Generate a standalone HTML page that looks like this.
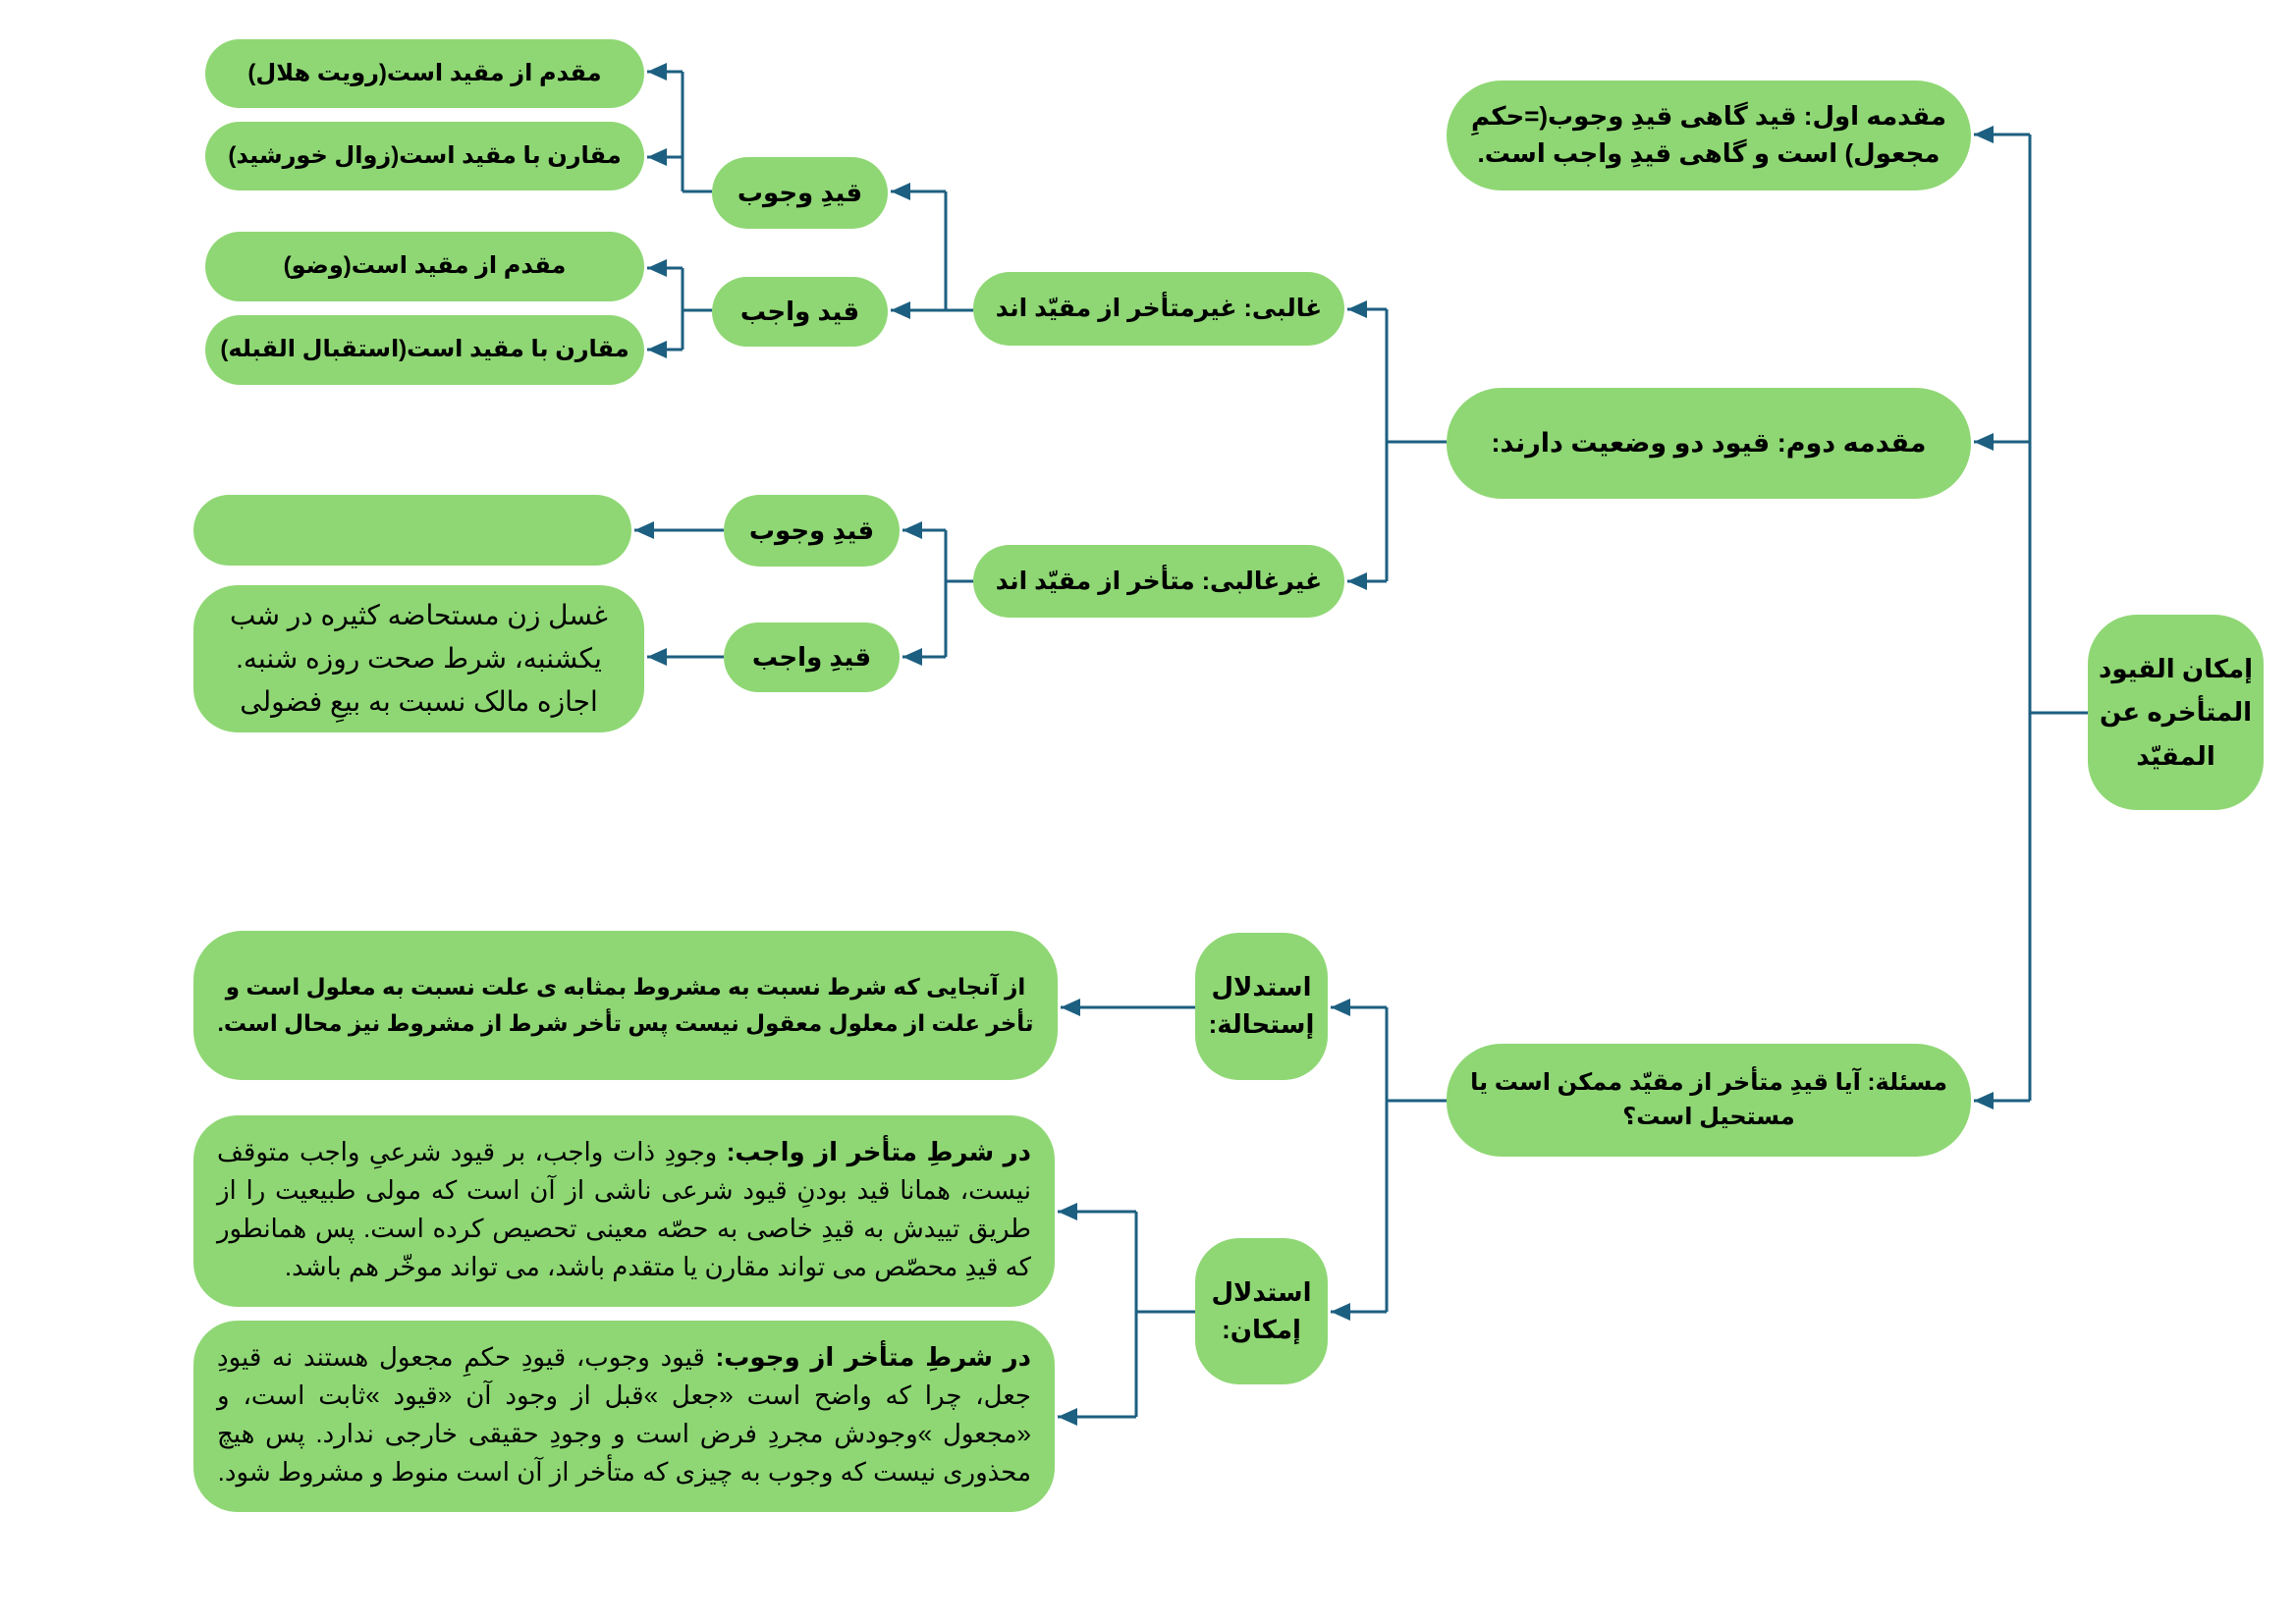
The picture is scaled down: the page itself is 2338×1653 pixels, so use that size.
<!DOCTYPE html>
<html><head><meta charset="utf-8"><style>
body{margin:0;width:2338px;height:1653px;background:#fff;position:relative;overflow:hidden;font-family:"Liberation Sans","DejaVu Sans",sans-serif;}
.n{position:absolute;background:#8fd774;border-radius:38px;display:flex;align-items:center;justify-content:center;text-align:center;direction:rtl;font-weight:bold;font-size:26px;color:#000;box-sizing:border-box;line-height:1.45;}
.s{white-space:nowrap;font-size:24px;}
.t{font-weight:normal;font-size:26px;text-align:justify;text-align-last:right;display:block;padding:22px 24px;line-height:39px;border-radius:45px;}
svg{position:absolute;left:0;top:0}
</style></head><body>
<svg width="2338" height="1653">
<defs>
<marker id="b" markerWidth="22" markerHeight="22" refX="20" refY="9" orient="auto" markerUnits="userSpaceOnUse"><path d="M0,0 L20,9 L0,18 z" fill="#1d5f80"/></marker></defs>
<g stroke="#1d5f80" stroke-width="3" fill="none">
<path d="M2126 726 H2067 M2067 137 V1121"/>
<path d="M2067 137 H2010" marker-end="url(#b)"/>
<path d="M2067 450 H2010" marker-end="url(#b)"/>
<path d="M2067 1121 H2010" marker-end="url(#b)"/>
<path d="M1473 450 H1412 M1412 315 V592"/>
<path d="M1412 315 H1372" marker-end="url(#b)"/>
<path d="M1412 592 H1372" marker-end="url(#b)"/>
<path d="M991 316 H963 M963 195 V316"/>
<path d="M963 195 H907" marker-end="url(#b)"/>
<path d="M963 316 H907" marker-end="url(#b)"/>
<path d="M725 195 H695 M695 73 V195"/>
<path d="M695 73 H659" marker-end="url(#b)"/>
<path d="M695 160 H659" marker-end="url(#b)"/>
<path d="M725 316 H695 M695 273 V356"/>
<path d="M695 273 H659" marker-end="url(#b)"/>
<path d="M695 356 H659" marker-end="url(#b)"/>
<path d="M991 592 H963 M963 540 V669"/>
<path d="M963 540 H919" marker-end="url(#b)"/>
<path d="M963 669 H919" marker-end="url(#b)"/>
<path d="M737 540 H646" marker-end="url(#b)"/>
<path d="M737 669 H659" marker-end="url(#b)"/>
<path d="M1473 1121 H1412 M1412 1026 V1336"/>
<path d="M1412 1026 H1355" marker-end="url(#b)"/>
<path d="M1412 1336 H1355" marker-end="url(#b)"/>
<path d="M1217 1026 H1080" marker-end="url(#b)"/>
<path d="M1217 1336 H1157 M1157 1234 V1443"/>
<path d="M1157 1234 H1077" marker-end="url(#b)"/>
<path d="M1157 1443 H1077" marker-end="url(#b)"/>
</g></svg>

<div class="n" style="left:2126px;top:626px;width:179px;height:199px;font-size:26px;border-radius:50px;padding:0;line-height:1.7;white-space:nowrap">إمكان القيود<br>المتأخره عن<br>المقيّد</div>
<div class="n" style="left:1473px;top:82px;width:534px;height:112px;border-radius:56px">مقدمه اول: قید گاهی قیدِ وجوب(=حکمِ مجعول) است و گاهی قیدِ واجب است.</div>
<div class="n" style="left:1473px;top:395px;width:534px;height:113px;border-radius:56px;font-size:27px">مقدمه دوم: قیود دو وضعیت دارند:</div>
<div class="n" style="left:1473px;top:1063px;width:534px;height:115px;border-radius:56px;padding:0;font-size:24px;white-space:nowrap">مسئلة: آیا قیدِ متأخر از مقیّد ممکن است یا<br>مستحیل است؟</div>
<div class="n s" style="left:991px;top:277px;width:378px;height:75px;font-size:25px">غالبی: غیرمتأخر از مقیّد اند</div>
<div class="n s" style="left:991px;top:555px;width:378px;height:74px;font-size:25px">غیرغالبی: متأخر از مقیّد اند</div>
<div class="n" style="left:725px;top:160px;width:179px;height:73px">قیدِ وجوب</div>
<div class="n" style="left:725px;top:282px;width:179px;height:71px">قید واجب</div>
<div class="n s" style="left:209px;top:40px;width:447px;height:70px">مقدم از مقید است(رویت هلال)</div>
<div class="n s" style="left:209px;top:124px;width:447px;height:70px">مقارن با مقید است(زوال خورشید)</div>
<div class="n s" style="left:209px;top:236px;width:447px;height:71px">مقدم از مقید است(وضو)</div>
<div class="n s" style="left:209px;top:321px;width:447px;height:71px">مقارن با مقید است(استقبال القبله)</div>
<div class="n" style="left:737px;top:504px;width:179px;height:73px">قیدِ وجوب</div>
<div class="n" style="left:737px;top:634px;width:179px;height:71px">قیدِ واجب</div>
<div class="n" style="left:197px;top:504px;width:446px;height:72px"></div>
<div class="n" style="left:197px;top:596px;width:459px;height:150px;font-weight:normal;font-size:28px;line-height:44px;border-radius:45px">غسل زن مستحاضه کثیره در شب یکشنبه، شرط صحت روزه شنبه.<br>اجازه مالک نسبت به بیعِ فضولی</div>
<div class="n" style="left:1217px;top:950px;width:135px;height:150px;border-radius:45px">استدلال إستحالة:</div>
<div class="n" style="left:1217px;top:1261px;width:135px;height:149px;border-radius:45px">استدلال إمكان:</div>
<div class="n" style="left:197px;top:948px;width:880px;height:152px;border-radius:50px;padding:0;font-size:23px;white-space:nowrap;line-height:1.6">از آنجایی که شرط نسبت به مشروط بمثابه ی علت نسبت به معلول است و<br>تأخر علت از معلول معقول نیست پس تأخر شرط از مشروط نیز محال است.</div>
<div class="n t" style="left:197px;top:1136px;width:877px;height:195px;padding-top:18px"><b>در شرطِ متأخر از واجب:</b> وجودِ ذات واجب، بر قیود شرعیِ واجب متوقف نیست، همانا قید بودنِ قیود شرعی ناشی از آن است که مولی طبیعیت را از طریق تییدش به قیدِ خاصی به حصّه معینی تحصیص کرده است. پس همانطور که قیدِ محصّص می تواند مقارن یا متقدم باشد، می تواند موخّر هم باشد.</div>
<div class="n t" style="left:197px;top:1345px;width:877px;height:195px;padding-top:18px"><b>در شرطِ متأخر از وجوب:</b> قیود وجوب، قیودِ حکمِ مجعول هستند نه قیودِ جعل، چرا که واضح است «جعل »قبل از وجود آن «قیود »ثابت است، و «مجعول »وجودش مجردِ فرض است و وجودِ حقیقی خارجی ندارد. پس هیچ محذوری نیست که وجوب به چیزی که متأخر از آن است منوط و مشروط شود.</div>
</body></html>
